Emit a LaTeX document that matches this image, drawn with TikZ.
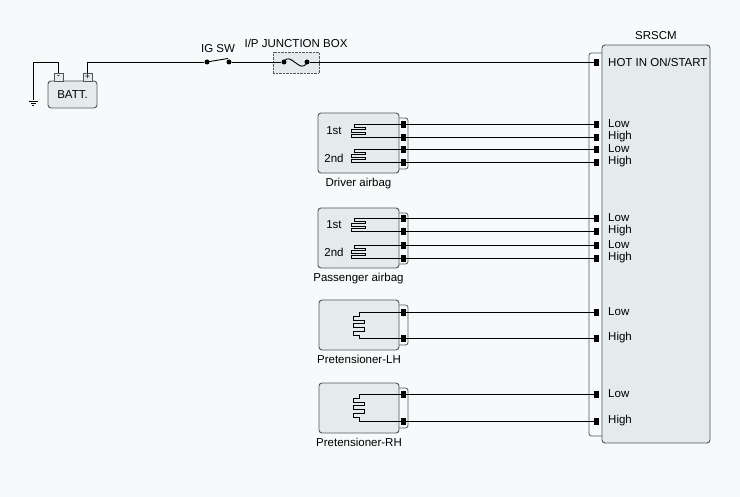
\documentclass[tikz,border=0pt]{standalone}
\usepackage{fontspec}
\setmainfont{Liberation Sans}
\usetikzlibrary{positioning,calc}
\definecolor{paper}{RGB}{247,250,251}
\definecolor{boxfill}{RGB}{228,235,237}
\definecolor{edge}{RGB}{80,86,88}
\tikzset{
    part/.style={
        rectangle,
        rounded corners=3pt,
        draw=edge,
        fill=boxfill,
        line width=0.9pt,
        inner sep=0pt,
    },
    plug/.style={
        rounded corners=2.5pt,
        draw=edge,
        fill=paper,
        line width=0.8pt,
    },
    term/.style={
        rectangle,
        draw=black,
        fill=black,
        inner sep=0pt,
        minimum width=4pt,
        minimum height=6pt,
    },
    post/.style={
        rectangle,
        draw=edge,
        fill=boxfill,
        inner sep=0pt,
        minimum width=9pt,
        minimum height=8pt,
        font=\fontsize{9}{9}\selectfont,
    },
    contact/.style={
        circle,
        fill=black,
        inner sep=0pt,
        minimum size=5pt,
    },
    wire/.style={
        draw,
        line width=0.9pt,
    },
    label distance=1.5pt,
}
\newcommand{\squib}[2]{%
    \draw[wire] (#1.west) -- ++(-46,0) -- ++(0,3) -- ++(11,0) -- ++(0,2.5) -- ++(-14,0)
        -- ++(0,2.5) -- ++(14,0) -- ++(0,2.5) -- ++(-14,0) |- (#2.west);
}
\newcommand{\pretens}[2]{%
    \draw[wire] (#1.west) -- ++(-41,0) -- ++(0,4) -- ++(-6,0) -- ++(0,4) -- ++(11,0)
        -- ++(0,3.5) -- ++(-11,0) -- ++(0,4) -- ++(11,0) -- ++(0,3.5) -- ++(-11,0)
        -- ++(0,4) -- ++(6,0) |- (#2.west);
}

\begin{document}
\begin{tikzpicture}[x=1pt, y=-1pt, font=\fontsize{11.5}{13}\selectfont]
                \fill[paper] (0,0) rectangle (740,497);

                \node [part, minimum width=49pt, minimum height=27pt] (BATT) at (72.5,94.5) {BATT.};
                \node [post] (NEG) at (58.5,77) {-};
                \node [post] (POS) at (87.5,77) {+};
                \coordinate (GNDT) at (33,62);
                \coordinate (GND) at (33,100);
                \draw[wire] (NEG) |- (GNDT) -- (GND);
                \draw[wire, line width=0.8pt] (GND) ++(0,1.5) ++(-4.5,0) -- ++(9,0)
                    ++(-7,2) -- ++(5,0) ++(-3.5,2) -- ++(2,0);

                \node [contact] (SWA) at (207,62) {};
                \node [contact] (SWB) at (229,62) {};
                \node (IGSW) at (218,49) {IG SW};
                \draw[wire] (POS) |- (SWA);
                \draw[wire] (SWA.center) -- ($(SWB.center)+(-1,-3.5)$);

                \node [rectangle, draw=edge, densely dotted, fill=boxfill, minimum width=46pt, minimum height=21pt] (JBOX) at (296,62.5) {};
                \node [above=1pt of JBOX] (JBLBL) {I/P JUNCTION BOX};
                \node [contact] (FA) at (284,62) {};
                \node [contact] (FB) at (307,62) {};
                \draw[wire] (SWB) -- (FA);
                \draw[wire] (FA.center) .. controls (290,50) and (301,76) .. (FB.center);

                \path[plug] (589,53) rectangle (608,436);
                \node [part, minimum width=108pt, minimum height=398pt, label=above:SRSCM] (SRS) at (656,244) {};
                \node [term] (SHOT) at (596.5,62) {};
                \node [right=6pt of SHOT] (THOT) {HOT IN ON/START};
                \draw[wire] (FB) -- (SHOT);

                \path[plug] (392,118) rectangle (408,169);
                \node [part, minimum width=81pt, minimum height=60pt, label=below:Driver airbag] (DAB) at (358.5,143) {};
                \node (D1ST) at (334,131) {1st};
                \node (D2ND) at (334,158) {2nd};

                \path[plug] (392,213) rectangle (408,264);
                \node [part, minimum width=81pt, minimum height=60pt, label=below:Passenger airbag] (PAB) at (358.5,238) {};
                \node (P1ST) at (334,225) {1st};
                \node (P2ND) at (334,252) {2nd};

                \path[plug] (392,305) rectangle (408,345);
                \node [part, minimum width=80pt, minimum height=50pt, label=below:Pretensioner-LH] (PLH) at (359,325) {};

                \path[plug] (392,388) rectangle (408,428);
                \node [part, minimum width=80pt, minimum height=50pt, label=below:Pretensioner-RH] (PRH) at (359,408) {};

                \node [term] (D1) at (403,124) {};
                \node [term] (D2) at (403,137) {};
                \node [term] (D3) at (403,149) {};
                \node [term] (D4) at (403,162) {};
                \node [term] (P1) at (403,218) {};
                \node [term] (P2) at (403,231) {};
                \node [term] (P3) at (403,245) {};
                \node [term] (P4) at (403,258) {};
                \node [term] (L1) at (403,312) {};
                \node [term] (L2) at (403,338) {};
                \node [term] (R1) at (403,394) {};
                \node [term] (R2) at (403,421) {};

                \squib{D1}{D2}
                \squib{D3}{D4}
                \squib{P1}{P2}
                \squib{P3}{P4}
                \pretens{L1}{L2}
                \pretens{R1}{R2}

                \node [term] (SD1) at (596.5,124) {};
                \node [term] (SD2) at (596.5,137) {};
                \node [term] (SD3) at (596.5,149) {};
                \node [term] (SD4) at (596.5,162) {};
                \node [term] (SP1) at (596.5,218) {};
                \node [term] (SP2) at (596.5,231) {};
                \node [term] (SP3) at (596.5,245) {};
                \node [term] (SP4) at (596.5,258) {};
                \node [term] (SL1) at (596.5,312) {};
                \node [term] (SL2) at (596.5,338) {};
                \node [term] (SR1) at (596.5,394) {};
                \node [term] (SR2) at (596.5,421) {};

                \draw[wire] (D1) -- (SD1);
                \draw[wire] (D2) -- (SD2);
                \draw[wire] (D3) -- (SD3);
                \draw[wire] (D4) -- (SD4);
                \draw[wire] (P1) -- (SP1);
                \draw[wire] (P2) -- (SP2);
                \draw[wire] (P3) -- (SP3);
                \draw[wire] (P4) -- (SP4);
                \draw[wire] (L1) -- (SL1);
                \draw[wire] (L2) -- (SL2);
                \draw[wire] (R1) -- (SR1);
                \draw[wire] (R2) -- (SR2);

                \node [right=6pt of SD1] (TD1) {Low};
                \node [right=6pt of SD2] (TD2) {High};
                \node [right=6pt of SD3] (TD3) {Low};
                \node [right=6pt of SD4] (TD4) {High};
                \node [right=6pt of SP1] (TP1) {Low};
                \node [right=6pt of SP2] (TP2) {High};
                \node [right=6pt of SP3] (TP3) {Low};
                \node [right=6pt of SP4] (TP4) {High};
                \node [right=6pt of SL1] (TL1) {Low};
                \node [right=6pt of SL2] (TL2) {High};
                \node [right=6pt of SR1] (TR1) {Low};
                \node [right=6pt of SR2] (TR2) {High};
            \end{tikzpicture}
\end{document}
